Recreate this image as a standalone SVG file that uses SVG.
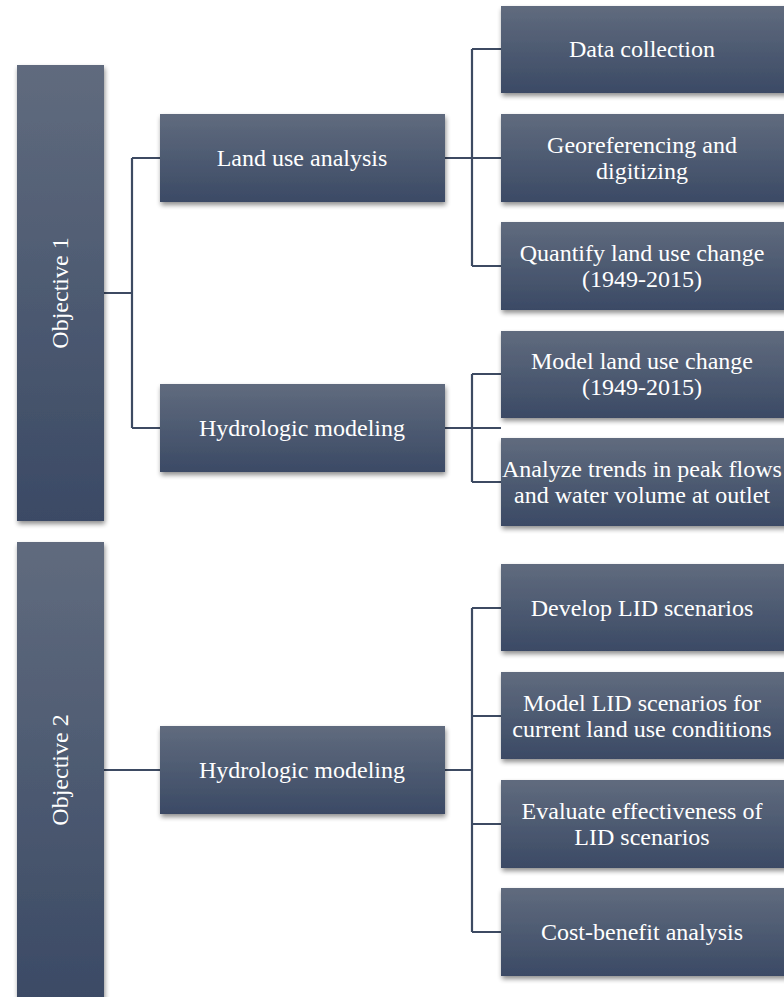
<svg xmlns="http://www.w3.org/2000/svg" width="784" height="997" viewBox="0 0 784 997">
<defs>
<linearGradient id="g" x1="0" y1="0" x2="0" y2="1">
<stop offset="0" stop-color="#606b7e"/>
<stop offset="1" stop-color="#3b4a65"/>
</linearGradient>
<filter id="sh" x="-20%" y="-20%" width="140%" height="140%">
<feGaussianBlur in="SourceAlpha" stdDeviation="2.5"/>
<feOffset dx="1" dy="3" result="b"/>
<feComponentTransfer><feFuncA type="linear" slope="0.45"/></feComponentTransfer>
<feMerge><feMergeNode/><feMergeNode in="SourceGraphic"/></feMerge>
</filter>
</defs>
<style>
.box{fill:url(#g);filter:url(#sh);}
.t{font-family:"Liberation Serif","Times New Roman",serif;font-size:24px;fill:#ffffff;text-anchor:middle;}
.c{fill:none;stroke:#3d4a62;stroke-width:2.2;}
</style>
<g id="connectors">
<path class="c" d="M104 293 H132 M132 158 V428 M132 158 H160 M132 428 H160"/>
<path class="c" d="M445 158 H501 M472 49 V266 M472 49 H501 M472 266 H501"/>
<path class="c" d="M445 428 H501 M472 374 V482 M472 374 H501 M472 482 H501"/>
<path class="c" d="M104 770 H160 M445 770 H472 M472 608 V932 M472 608 H501 M472 716 H501 M472 824 H501 M472 932 H501"/>
</g>
<g id="objective1"><rect class="box" x="17" y="65" width="87" height="456"/><text class="t" transform="translate(68 293) rotate(-90)">Objective 1</text></g>
<g id="objective2"><rect class="box" x="17" y="542" width="87" height="460"/><text class="t" transform="translate(68 770) rotate(-90)">Objective 2</text></g>
<g id="landuse"><rect class="box" x="160" y="114" width="285" height="88"/><text class="t" x="302" y="166">Land use analysis</text></g>
<g id="hydro1"><rect class="box" x="160" y="384" width="285" height="88"/><text class="t" x="302" y="436">Hydrologic modeling</text></g>
<g id="hydro2"><rect class="box" x="160" y="726" width="285" height="88"/><text class="t" x="302" y="778">Hydrologic modeling</text></g>
<g id="datacollection"><rect class="box" x="501" y="6" width="290" height="87"/><text class="t" x="642" y="57">Data collection</text></g>
<g id="georef"><rect class="box" x="501" y="114" width="290" height="88"/><text class="t" x="642" y="153">Georeferencing and</text><text class="t" x="642" y="179">digitizing</text></g>
<g id="quantify"><rect class="box" x="501" y="222" width="290" height="88"/><text class="t" x="642" y="261">Quantify land use change</text><text class="t" x="642" y="287">(1949-2015)</text></g>
<g id="modelland"><rect class="box" x="501" y="331" width="290" height="87"/><text class="t" x="642" y="369">Model land use change</text><text class="t" x="642" y="395">(1949-2015)</text></g>
<g id="analyze"><rect class="box" x="501" y="438" width="290" height="88"/><text class="t" x="642" y="477">Analyze trends in peak flows</text><text class="t" x="642" y="503">and water volume at outlet</text></g>
<g id="develop"><rect class="box" x="501" y="564" width="290" height="87"/><text class="t" x="642" y="616">Develop LID scenarios</text></g>
<g id="modellid"><rect class="box" x="501" y="672" width="290" height="87"/><text class="t" x="642" y="711">Model LID scenarios for</text><text class="t" x="642" y="737">current land use conditions</text></g>
<g id="evaluate"><rect class="box" x="501" y="780" width="290" height="88"/><text class="t" x="642" y="819">Evaluate effectiveness of</text><text class="t" x="642" y="845">LID scenarios</text></g>
<g id="costbenefit"><rect class="box" x="501" y="888" width="290" height="88"/><text class="t" x="642" y="940">Cost-benefit analysis</text></g>
</svg>
